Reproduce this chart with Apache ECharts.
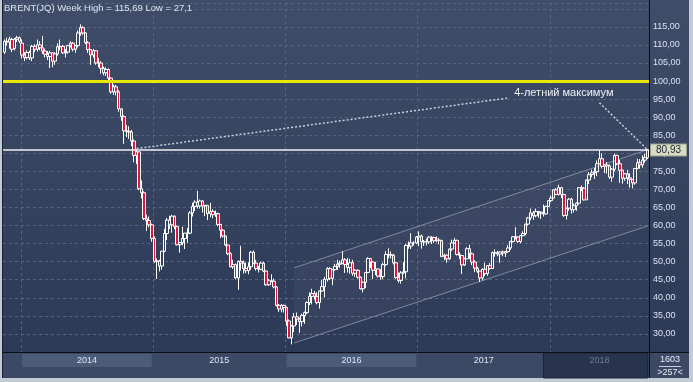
<!DOCTYPE html>
<html><head><meta charset="utf-8">
<script src="https://cdn.jsdelivr.net/npm/echarts@6/dist/echarts.min.js"></script>
<style>html,body{margin:0;padding:0;background:#c2cbd5;overflow:hidden}#c{width:693px;height:382px}</style>
</head><body><div id="c"></div>
<script>
// ---- categories: weekly bars starting 2013-11-18 ----
const firstWeek = '2013-11-18';
const barCount = 254;
const weekDates = [];
(function(){const t0=Date.UTC(2013,10,18);for(let i=0;i<barCount;i++){const d=new Date(t0+i*7*86400000);weekDates.push(d.toISOString().slice(0,10));}})();

// ---- series values ----
const opens = [108.0,111.0,110.8,111.5,109.0,111.6,112.0,110.5,107.2,106.5,107.9,106.4,109.6,108.8,110.0,109.2,108.3,107.4,106.8,107.8,105.5,107.5,109.5,109.6,107.8,108.0,109.8,110.5,108.8,109.8,113.3,114.8,113.3,110.6,108.7,107.2,108.4,105.0,105.0,103.5,102.3,103.2,100.8,97.0,98.4,97.0,92.3,90.2,86.2,86.1,85.9,83.4,79.4,80.4,70.2,69.1,61.9,61.4,60.2,56.4,50.1,50.2,48.8,52.9,57.8,61.5,60.2,62.6,59.7,54.7,55.3,56.4,57.9,57.9,63.5,65.3,66.5,65.4,66.8,65.4,65.6,63.3,63.9,63.0,63.3,60.3,58.7,57.1,54.6,52.2,48.6,49.2,45.5,50.1,49.6,48.1,47.5,48.6,52.6,49.6,48.1,47.9,49.6,47.4,43.6,44.7,44.6,43.0,37.9,36.9,37.9,37.3,33.6,28.9,32.2,34.7,34.1,33.4,35.1,35.9,38.7,40.4,41.2,40.4,38.7,41.9,43.1,45.1,48.1,45.4,47.8,48.7,49.3,49.6,50.5,49.2,48.4,49.7,46.8,47.6,45.7,42.5,44.3,47.0,50.9,49.9,47.6,48.0,46.0,45.9,49.2,52.0,51.9,51.8,49.7,45.6,44.8,46.9,47.2,54.5,54.3,55.2,55.2,56.8,57.1,55.5,55.5,55.5,56.8,56.7,55.8,56.0,55.9,51.4,51.8,50.8,53.5,55.2,55.9,52.0,51.7,49.1,50.8,53.6,52.2,49.9,48.2,47.4,45.5,47.9,46.7,48.9,48.1,52.5,52.4,52.1,52.7,52.4,52.8,53.8,55.6,56.9,56.8,55.6,57.2,57.8,60.4,62.1,63.5,62.7,63.9,63.7,63.4,63.2,65.3,66.9,67.6,69.9,68.6,70.5,68.6,62.8,64.8,67.3,64.4,65.5,66.2,70.5,70.3,67.1,72.6,74.1,74.6,74.9,77.1,78.5,76.4,76.8,76.5,73.4,75.6,79.4,77.1,75.3,73.1,74.3,73.2,72.8,71.8,75.8,77.4,76.8,78.1,78.8];
const closes = [111.0,110.8,111.6,108.8,111.6,112.0,111.0,107.2,106.5,107.9,106.4,109.6,108.8,110.0,109.2,108.3,107.4,106.8,107.8,105.5,107.5,109.5,109.6,107.8,108.0,109.8,110.5,108.8,109.8,113.3,114.8,113.3,110.6,108.7,107.2,108.4,105.0,105.0,103.5,102.3,103.2,100.8,97.0,98.4,97.0,92.3,90.2,86.2,86.1,85.9,83.4,79.4,80.4,70.2,69.1,61.9,61.4,60.2,56.4,50.1,50.2,48.8,52.9,57.8,61.5,60.2,62.6,59.7,54.7,55.3,56.4,57.9,57.9,63.5,65.3,66.5,65.4,66.8,65.4,65.6,63.3,63.9,63.0,63.3,60.3,58.7,57.1,54.6,52.2,48.6,49.2,45.5,50.1,49.6,48.1,47.5,48.6,52.6,49.6,48.1,47.9,49.6,47.4,43.6,44.7,44.6,43.0,37.9,36.9,37.9,37.3,33.6,28.9,32.2,34.7,34.1,33.4,35.1,35.9,38.7,40.4,41.2,40.4,38.7,41.9,43.1,45.1,48.1,45.4,47.8,48.7,49.3,49.6,50.5,49.2,48.4,49.7,46.8,47.6,45.7,42.5,44.3,47.0,50.9,49.9,47.6,48.0,46.0,45.9,49.2,52.0,51.9,51.8,49.7,45.6,44.8,46.9,47.2,54.5,54.3,55.2,55.2,56.8,57.1,55.5,55.5,55.5,56.8,56.7,55.8,56.0,55.9,51.4,51.8,50.8,53.5,55.2,55.9,52.0,51.7,49.1,50.8,53.6,52.2,49.9,48.2,47.4,45.5,47.9,46.7,48.9,48.1,52.5,52.4,52.1,52.7,52.4,52.8,53.8,55.6,56.9,56.8,55.6,57.2,57.8,60.4,62.1,63.5,62.7,63.9,63.7,63.4,63.2,65.3,66.9,67.6,69.9,68.6,70.5,68.6,62.8,64.8,67.3,64.4,65.5,66.2,70.5,70.3,67.1,72.6,74.1,74.6,74.9,77.1,78.5,76.4,76.8,76.5,73.4,75.6,79.4,77.1,75.3,73.1,74.3,73.2,72.8,71.8,75.8,77.4,76.8,78.1,78.8,80.93];
const lows = [107.5,109.8,109.0,108.0,108.5,110.8,110.5,106.3,105.5,106.0,105.8,105.5,108.0,108.2,108.5,107.5,106.5,105.8,103.6,103.8,104.5,107.0,108.5,107.5,106.5,107.6,109.3,108.2,107.8,109.3,112.5,112.8,110.2,107.8,104.5,106.5,104.5,103.8,102.0,101.6,101.4,100.0,96.5,96.2,96.0,91.5,89.0,82.6,84.5,84.0,82.0,77.5,77.0,69.8,67.5,61.5,58.5,59.5,55.5,49.7,45.2,47.3,47.8,52.6,56.0,59.0,58.0,59.0,54.5,52.5,54.5,53.5,55.2,57.6,62.5,64.0,64.7,64.7,63.6,62.6,61.5,62.3,62.0,62.4,59.8,56.5,56.7,54.3,51.8,48.4,48.0,45.1,42.2,47.5,46.7,46.8,46.5,47.7,49.3,47.5,47.0,47.6,47.1,43.3,43.3,44.3,42.6,37.6,36.1,36.0,35.9,32.2,28.8,27.1,30.5,32.5,30.3,32.1,32.8,35.5,38.0,38.2,39.5,38.2,37.0,41.6,40.1,44.5,44.9,43.5,47.5,47.7,48.3,49.3,46.9,47.0,46.7,46.1,45.8,45.3,42.3,41.5,42.7,46.8,48.2,45.2,46.3,45.6,45.0,45.2,48.8,50.9,50.9,49.2,45.3,44.2,43.9,46.6,45.4,53.6,53.5,54.5,54.9,54.3,53.6,54.4,54.5,54.9,54.9,55.2,55.4,54.8,51.3,50.4,49.7,50.5,53.0,55.0,51.7,50.7,46.6,48.8,50.7,50.7,49.0,47.1,46.9,44.4,44.8,46.0,46.1,47.8,48.0,51.4,51.5,49.7,51.5,51.3,52.5,53.3,55.3,56.2,55.2,55.1,57.0,57.3,60.0,61.5,61.6,62.3,62.2,61.8,62.5,63.0,65.2,66.5,67.5,68.5,68.3,67.6,62.4,61.7,64.1,63.3,63.6,64.1,65.8,69.5,66.9,67.1,71.5,73.4,72.9,73.7,77.0,75.8,74.5,74.4,72.9,72.1,75.0,76.7,71.8,71.6,72.4,71.5,70.5,70.3,71.3,75.6,75.7,76.0,77.4,78.4];
const highs = [111.5,112.0,112.3,112.0,111.9,112.5,112.3,111.5,108.0,108.5,108.4,110.0,110.2,111.5,111.0,112.5,109.0,108.3,108.4,108.0,108.0,110.4,111.5,110.0,108.8,110.0,111.0,110.8,110.0,114.0,115.69,115.2,113.5,111.0,108.8,108.9,108.5,106.4,105.5,104.0,103.8,103.5,101.0,99.0,99.0,97.5,92.5,90.5,87.8,87.5,86.5,83.8,81.0,80.5,72.5,69.5,63.0,62.5,60.5,57.0,50.9,50.5,53.0,59.1,62.1,62.7,63.0,62.8,60.0,55.5,59.7,57.9,59.3,64.0,66.3,67.0,69.6,67.2,67.0,65.7,65.7,66.3,64.5,64.2,63.6,60.5,59.0,57.2,54.7,52.6,50.5,49.5,50.3,54.4,50.3,49.8,49.8,53.0,53.1,50.5,48.8,50.0,50.0,47.6,45.2,46.5,45.3,43.2,38.3,38.3,38.1,37.6,34.0,32.5,35.8,35.9,34.5,35.6,36.2,39.0,41.5,42.5,41.9,41.5,42.0,44.9,45.8,48.5,48.5,48.0,49.4,50.5,50.3,52.9,51.0,51.0,50.8,50.5,48.0,47.9,45.9,44.5,47.2,51.2,51.0,50.2,49.9,48.1,47.9,49.7,52.9,53.7,52.8,52.1,49.8,47.0,47.4,49.9,54.9,55.6,57.9,55.7,57.1,58.4,57.5,56.0,56.4,57.1,57.1,56.9,57.0,56.6,56.0,52.2,52.0,53.6,56.1,56.6,56.1,52.6,51.7,51.1,54.0,54.7,52.5,50.4,48.6,47.5,48.2,49.7,49.0,49.6,52.8,53.4,53.0,52.9,53.1,53.0,54.6,55.8,57.1,59.5,57.0,57.3,58.4,60.5,62.4,64.7,64.0,64.7,64.0,63.9,65.8,65.5,67.0,68.3,70.1,70.4,71.3,70.7,68.8,65.0,67.6,67.7,66.1,66.4,70.6,71.1,70.6,72.7,74.8,75.5,75.9,78.0,80.9,80.0,77.0,77.6,76.9,75.9,79.9,79.6,78.2,75.5,74.5,75.4,74.5,72.9,75.9,78.5,78.4,79.4,79.9,81.0];

// ---- axis / annotation values ----
const yMin = 25, yMax = 121.6, yStep = 5, labelMin = 30, labelMax = 115;
const resistanceLevel = 100;
const lastPrice = 80.93;
const yearLabels = ['2014','2015','2016','2017','2018'];
const shadedYears = ['2014','2016'];
const darkZoneStart = '2017-12-11';
const channelStart = ['2016-01-25', 48.3, 27.5];   // [week, upper, lower]
const channelEnd   = ['2018-09-24', 81.0, 59.9];
const annotText = '4-летний максимум';
const annotPoint = ['2018-02-05', 96.7];
const dotLine1 = [['2014-11-17', 81.3], ['2017-09-04', 95.3]];
const dotLine2 = [['2018-05-14', 94.0], ['2018-09-24', lastPrice]];
const titleText = 'BRENT(JQ) Week High = 115,69 Low = 27,1';
const cornerTop = '1603', cornerBottom = '>257<';

const FONT = '"Liberation Sans", Arial, sans-serif';
const candles = opens.map((o,i)=>[o, closes[i], lows[i], highs[i]]);
const yearStartIdx = new Set();
weekDates.forEach((d,i)=>{ if(i>0 && d.slice(0,4)!==weekDates[i-1].slice(0,4)) yearStartIdx.add(i); });
function yearRange(y){
  const idx = weekDates.map((d,i)=>d.slice(0,4)===y?i:-1).filter(i=>i>=0);
  return [weekDates[idx[0]], weekDates[idx[idx.length-1]]];
}
const idxOf = d => weekDates.indexOf(d);

const stripAreas = [];
stripAreas.push([{xAxis: darkZoneStart, yAxis: 1, itemStyle:{color:'#28344d', borderColor:'#1c2438', borderWidth:1}}, {xAxis: weekDates[weekDates.length-1], yAxis: 0}]);
shadedYears.forEach(y=>{const r=yearRange(y);stripAreas.push([{xAxis:r[0], yAxis:0.96, itemStyle:{color:'#4b5b78'}},{xAxis:r[1], yAxis:0.44}]);});
yearLabels.forEach(y=>{const r=yearRange(y);stripAreas.push([{xAxis:r[0], yAxis:1, itemStyle:{color:'rgba(0,0,0,0)'}, label:{show:true, formatter:y, position:'insideTop', distance:3, color: y==='2018'?'#6e7a90':'#dde6f3', fontSize:9, fontFamily:FONT}},{xAxis:r[1], yAxis:0}]);});

const chart = echarts.init(document.getElementById('c'), null, {renderer:'canvas', width:693, height:382});
const dash = {color:'#56647f', width:1, type:[3,3]};
chart.setOption({
  animation:false,
  backgroundColor:'#c2cbd5',
  graphic:[
    {type:'rect', z:-10, silent:true, shape:{x:2,y:0,width:687,height:353}, style:{fill:new echarts.graphic.LinearGradient(0,0,0,1,[{offset:0,color:'#404d68'},{offset:1,color:'#2d3a57'}])}},
    {type:'rect', z:-10, silent:true, shape:{x:2,y:353,width:687,height:25}, style:{fill:'#3c4965'}},
    {type:'line', z:50, silent:true, shape:{x1:2,y1:352.5,x2:689,y2:352.5}, style:{stroke:'#0b0e16', lineWidth:1}},
    {type:'line', z:50, silent:true, shape:{x1:649.5,y1:0,x2:649.5,y2:378}, style:{stroke:'#0b0e16', lineWidth:1}},
    {type:'line', z:50, silent:true, shape:{x1:2.5,y1:0,x2:2.5,y2:378}, style:{stroke:'#1b2233', lineWidth:1}},
    {type:'text', z:60, silent:true, x:4, y:3, style:{text:titleText, fill:'#dfe6f2', font:'9.5px '+FONT}},
    {type:'text', z:60, silent:true, x:670, y:355, style:{text:cornerTop, fill:'#e6ecf5', font:'9px '+FONT, textAlign:'center'}},
    {type:'line', z:60, silent:true, shape:{x1:659,y1:366.5,x2:681,y2:366.5}, style:{stroke:'#c8d0dc', lineWidth:1}},
    {type:'text', z:60, silent:true, x:670, y:368, style:{text:cornerBottom, fill:'#e6ecf5', font:'9px '+FONT, textAlign:'center'}}
  ],
  grid:[{left:3, top:3, right:44, bottom:30}, {left:3, top:353, right:44, height:25}],
  xAxis:[
    {type:'category', data:weekDates, boundaryGap:true, gridIndex:0,
     axisLine:{show:false}, axisTick:{show:false}, axisLabel:{show:false},
     splitLine:{show:true, interval:(i)=>yearStartIdx.has(i), lineStyle:dash}},
    {type:'category', data:weekDates, boundaryGap:true, gridIndex:1, show:false}
  ],
  yAxis:[
    {type:'value', position:'right', min:yMin, max:yMax, interval:yStep, gridIndex:0,
     axisLine:{show:false}, axisTick:{show:false},
     axisLabel:{margin:4, color:'#d7e2f2', fontSize:9, fontFamily:FONT,
       formatter:v=> (v<labelMin||v>labelMax)?'':v.toFixed(2).replace('.',',')},
     splitLine:{show:true, lineStyle:dash}},
    {type:'value', min:0, max:1, gridIndex:1, show:false}
  ],
  series:[
    {type:'custom', xAxisIndex:0, yAxisIndex:0, silent:true, z:1,
     data:[[idxOf(channelStart[0]), channelStart[1], channelStart[2], idxOf(channelEnd[0]), channelEnd[1], channelEnd[2]]],
     renderItem:(p,api)=>{
       const a=api.coord([api.value(0),api.value(1)]), b=api.coord([api.value(3),api.value(4)]);
       const c=api.coord([api.value(3),api.value(5)]), d=api.coord([api.value(0),api.value(2)]);
       return {type:'group', children:[
         {type:'polygon', shape:{points:[a,b,c,d]}, style:{fill:'rgba(255,255,255,0.035)'}},
         {type:'line', shape:{x1:a[0],y1:a[1],x2:b[0],y2:b[1]}, style:{stroke:'rgba(185,195,212,0.55)', lineWidth:1}},
         {type:'line', shape:{x1:d[0],y1:d[1],x2:c[0],y2:c[1]}, style:{stroke:'rgba(185,195,212,0.55)', lineWidth:1}}
       ]};
     }},
    {type:'candlestick', xAxisIndex:0, yAxisIndex:0, data:candles, barWidth:3, z:3,
     itemStyle:{color:'rgba(0,0,0,0)', color0:'#e3143c', borderColor:'#ffffff', borderColor0:'#ffffff', borderWidth:1},
     markLine:{silent:true, symbol:['none','none'], animation:false,
       data:[
         {yAxis:resistanceLevel, lineStyle:{color:'#e8e800', width:3, type:'solid'}, label:{show:false}},
         {yAxis:lastPrice, lineStyle:{color:'#f2f2f2', width:1.5, type:'solid'},
          label:{show:true, position:'end', distance:2, formatter:'80,93', color:'#1c2230', fontSize:10, fontFamily:FONT,
                 backgroundColor:'#d8dbc5', borderColor:'#9aa08a', borderWidth:1, padding:[1,5,0,5]}},
         [{coord:dotLine1[0], lineStyle:{color:'#c9d0dc', width:1.5, type:[2,2]}, label:{show:false}}, {coord:dotLine1[1]}],
         [{coord:dotLine2[0], lineStyle:{color:'#c9d0dc', width:1.5, type:[2,2]}, label:{show:false}}, {coord:dotLine2[1]}]
       ]},
     markPoint:{silent:true, symbol:'rect', symbolSize:1, itemStyle:{color:'rgba(0,0,0,0)'},
       data:[{coord:annotPoint, label:{show:true, position:'inside', formatter:annotText, color:'#eef1f6', fontSize:11, fontFamily:FONT}}]}
    },
    {type:'line', xAxisIndex:1, yAxisIndex:1, data:[], silent:true,
     markArea:{silent:true, data:stripAreas}}
  ]
});
</script></body></html>
